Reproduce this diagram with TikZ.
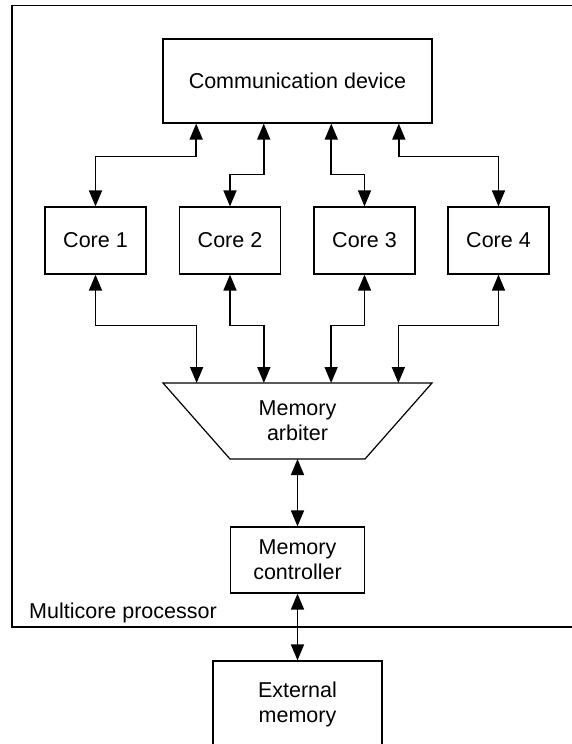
\documentclass[tikz,border=0pt]{standalone}
\usepackage{fontspec}
\setmainfont{Liberation Sans}
\usetikzlibrary{arrows.meta,calc}
\begin{document}
\begin{tikzpicture}[x=1pt,y=-1pt,
  txt/.style={font=\fontsize{21.5}{25}\selectfont},
  box/.style={draw, line width=1.2pt, inner sep=0pt, align=center, txt},
  arr/.style={line width=1.6pt, {Triangle[length=16pt,width=13pt]}-{Triangle[length=16pt,width=13pt]}},
  corebox/.style={box, minimum width=101pt, minimum height=67pt}]
\useasboundingbox (0,0) rectangle (572,744);
% outer processor box (right side beyond the page)
\draw[line width=1.2pt] (580,5.5) -- (12,5.5) -- (12,627) -- (580,627);
\node[anchor=base west, txt, inner sep=0pt] (mp) at (29,618) {Multicore processor};
% communication device
\node[box, minimum width=269pt, minimum height=84pt] (comm) at (297.5,81) {Communication device};
% cores
\node[corebox] (core1) at (95.5,240.5) {Core 1};
\node[corebox] (core2) at (230,240.5) {Core 2};
\node[corebox] (core3) at (364.5,240.5) {Core 3};
\node[corebox] (core4) at (498.5,240.5) {Core 4};
% memory arbiter (trapezoid)
\draw[line width=1.2pt] (163,383) -- (432,383) -- (365,459) -- (230,459) -- cycle;
\node[align=center, inner sep=0pt, txt] (arb) at (297.5,421) {Memory\\arbiter};
\coordinate (arbbot) at (297.5,459);
% memory controller and external memory
\node[box, minimum width=134pt, minimum height=66pt] (ctrl) at (297.5,560) {Memory\\controller};
\node[box, minimum width=169pt, minimum height=86pt] (ext) at (297.5,704) {External\\memory};
% ports
\foreach \i/\f in {1/0.125,2/0.375,3/0.625,4/0.875}{
  \coordinate (cp\i) at ($(comm.south west)!\f!(comm.south east)$);
  \coordinate (ap\i) at ($(163,383)!\f!(432,383)$);
}
% comm <-> cores
\draw[arr] (cp1) -- ++(0,33) -| (core1.north);
\draw[arr] (cp2) -- ++(0,51) -| (core2.north);
\draw[arr] (cp3) -- ++(0,51) -| (core3.north);
\draw[arr] (cp4) -- ++(0,33) -| (core4.north);
% cores <-> arbiter
\draw[arr] (core1.south) -- ++(0,51) -| (ap1);
\draw[arr] (core2.south) -- ++(0,51) -| (ap2);
\draw[arr] (core3.south) -- ++(0,51) -| (ap3);
\draw[arr] (core4.south) -- ++(0,51) -| (ap4);
% arbiter <-> controller <-> external
\draw[arr] (arbbot) -- (ctrl.north);
\draw[arr] (ctrl.south) -- (ext.north);
\end{tikzpicture}
\end{document}
